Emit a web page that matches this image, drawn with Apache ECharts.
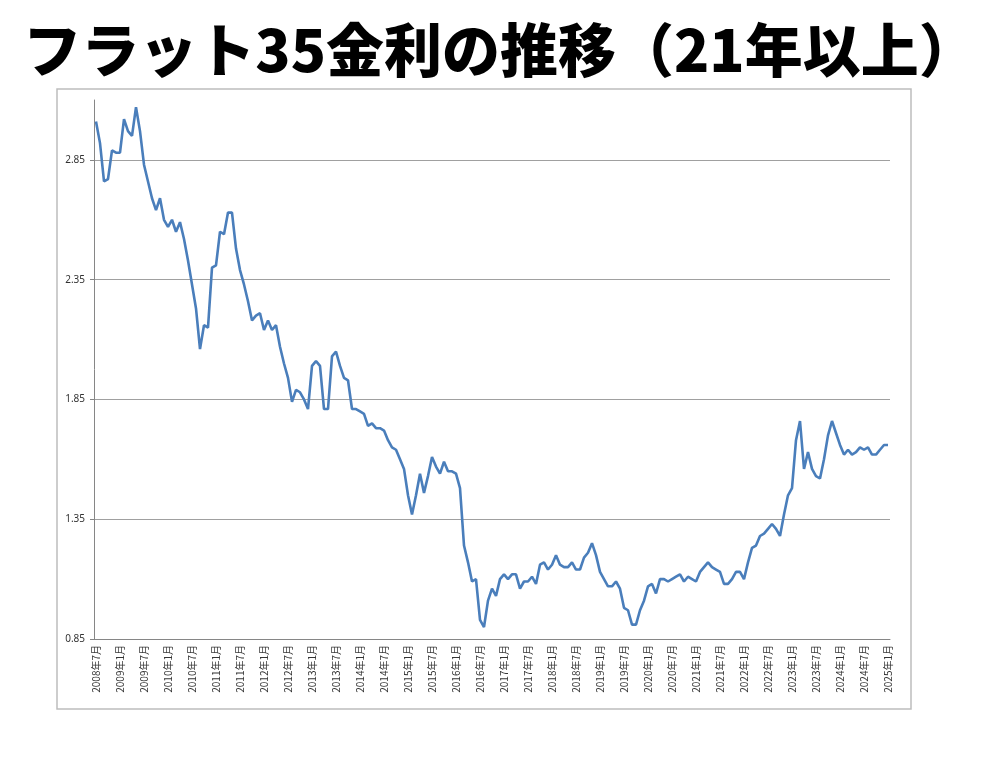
<!DOCTYPE html>
<html>
<head>
<meta charset="utf-8">
<script src="https://cdn.jsdelivr.net/npm/echarts@6/dist/echarts.min.js"></script>
<style>
  html, body { margin: 0; padding: 0; background: #ffffff; }
  #main { width: 1000px; height: 774px; }
</style>
</head>
<body>
<div id="main"></div>
<script>
// 月次カテゴリ：2008年7月〜2025年1月
var startYear = 2008, startMonth = 7, monthCount = 199;

// フラット35金利（21年以上）年ごと
var rates2008 = [3.01, 2.92, 2.76, 2.77, 2.89, 2.88];                                  // 7-12月
var rates2009 = [2.88, 3.02, 2.97, 2.95, 3.07, 2.97, 2.83, 2.76, 2.69, 2.64, 2.69, 2.60];
var rates2010 = [2.57, 2.60, 2.55, 2.59, 2.52, 2.43, 2.33, 2.23, 2.06, 2.16, 2.15, 2.40];
var rates2011 = [2.41, 2.55, 2.54, 2.63, 2.63, 2.48, 2.39, 2.33, 2.26, 2.18, 2.20, 2.21];
var rates2012 = [2.14, 2.18, 2.14, 2.16, 2.07, 2.00, 1.94, 1.84, 1.89, 1.88, 1.85, 1.81];
var rates2013 = [1.99, 2.01, 1.99, 1.81, 1.81, 2.03, 2.05, 1.99, 1.94, 1.93, 1.81, 1.81];
var rates2014 = [1.80, 1.79, 1.74, 1.75, 1.73, 1.73, 1.72, 1.68, 1.65, 1.64, 1.60, 1.56];
var rates2015 = [1.45, 1.37, 1.45, 1.54, 1.46, 1.53, 1.61, 1.57, 1.54, 1.59, 1.55, 1.55];
var rates2016 = [1.54, 1.48, 1.24, 1.17, 1.09, 1.10, 0.93, 0.90, 1.01, 1.06, 1.03, 1.10];
var rates2017 = [1.12, 1.10, 1.12, 1.12, 1.06, 1.09, 1.09, 1.11, 1.08, 1.16, 1.17, 1.14];
var rates2018 = [1.16, 1.20, 1.16, 1.15, 1.15, 1.17, 1.14, 1.14, 1.19, 1.21, 1.25, 1.20];
var rates2019 = [1.13, 1.10, 1.07, 1.07, 1.09, 1.06, 0.98, 0.97, 0.91, 0.91, 0.97, 1.01];
var rates2020 = [1.07, 1.08, 1.04, 1.10, 1.10, 1.09, 1.10, 1.11, 1.12, 1.09, 1.11, 1.10];
var rates2021 = [1.09, 1.13, 1.15, 1.17, 1.15, 1.14, 1.13, 1.08, 1.08, 1.10, 1.13, 1.13];
var rates2022 = [1.10, 1.17, 1.23, 1.24, 1.28, 1.29, 1.31, 1.33, 1.31, 1.28, 1.37, 1.45];
var rates2023 = [1.48, 1.68, 1.76, 1.56, 1.63, 1.56, 1.53, 1.52, 1.60, 1.70, 1.76, 1.71];
var rates2024 = [1.66, 1.62, 1.64, 1.62, 1.63, 1.65, 1.64, 1.65, 1.62, 1.62, 1.64, 1.66];
var rates2025 = [1.66];                                                                  // 1月

// 縦軸目盛
var yTicks = [0.85, 1.35, 1.85, 2.35, 2.85];
var yMin = 0.85, yMax = 3.1;

var months = [];
for (var k = 0; k < monthCount; k++) {
    var m = startMonth - 1 + k;
    months.push((startYear + Math.floor(m / 12)) + '年' + (m % 12 + 1) + '月');
}
var rates = [].concat(rates2008, rates2009, rates2010, rates2011, rates2012, rates2013,
    rates2014, rates2015, rates2016, rates2017, rates2018, rates2019, rates2020,
    rates2021, rates2022, rates2023, rates2024, rates2025);

var chart = echarts.init(document.getElementById('main'));
chart.setOption({
    animation: false,
    backgroundColor: '#ffffff',
    title: {
        text: 'フラット35金利の推移（21年以上）',
        left: 'center',
        top: 16,
        textStyle: {
            fontFamily: 'Noto Sans CJK JP',
            fontSize: 58,
            fontWeight: 900,
            color: '#000000'
        }
    },
    graphic: [{
        type: 'rect',
        shape: { x: 57, y: 89, width: 854, height: 620 },
        style: { fill: 'none', stroke: '#bdbdbd', lineWidth: 1.5 },
        silent: true
    }],
    grid: { left: 94, right: 110, top: 100, bottom: 135 },
    xAxis: {
        type: 'category',
        data: months,
        boundaryGap: true,
        axisLine: { lineStyle: { color: '#868686', width: 1 } },
        axisTick: { interval: 5, length: 5, lineStyle: { color: '#868686' } },
        axisLabel: {
            interval: 5,
            rotate: 90,
            fontSize: 10,
            margin: 6,
            color: '#333333',
            fontFamily: 'Noto Sans CJK JP',
            padding: [8, 0, 0, 0]
        },
        splitLine: { show: false }
    },
    yAxis: {
        type: 'value',
        min: yMin,
        max: yMax,
        axisLine: { show: true, lineStyle: { color: '#868686', width: 1 } },
        axisTick: { show: true, length: 4, customValues: yTicks, lineStyle: { color: '#868686' } },
        axisLabel: {
            customValues: yTicks,
            fontSize: 10,
            margin: 9,
            color: '#333333',
            fontFamily: 'Noto Sans',
            formatter: function (v) { return v.toFixed(2); }
        },
        splitLine: { show: true, lineStyle: { color: '#a0a0a0', width: 1 } }
    },
    series: [{
        type: 'line',
        data: rates,
        symbol: 'none',
        lineStyle: { color: '#4a7ebb', width: 2.6 },
        itemStyle: { color: '#4a7ebb' }
    }]
});
</script>
</body>
</html>
